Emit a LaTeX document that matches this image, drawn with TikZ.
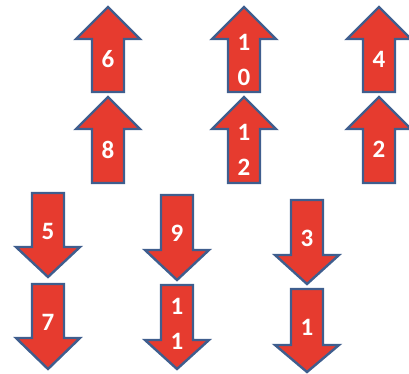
\documentclass[tikz,border=0pt]{standalone}
\usepackage{fontspec}
\setmainfont{Carlito}
\definecolor{arrred}{HTML}{E63B2F}
\definecolor{arrblue}{HTML}{3F5E8E}
\tikzset{
  arrshape/.style={fill=arrred, draw=arrblue, line width=2.4pt, line join=miter},
  lbl/.style={text=white, font=\fontsize{25}{35}\selectfont\bfseries, align=center, inner sep=0pt}
}
% #1 name, #2 cx, #3 top (tip), #4 bottom, #5 label
\newcommand\UpArr[5]{%
  \draw[arrshape] (#2,#3) -- (#2+32,#3+32) -- (#2+16,#3+32) -- (#2+16,#4) -- (#2-16,#4) -- (#2-16,#3+32) -- (#2-32,#3+32) -- cycle;
  \node[lbl] (#1) at (#2,#3+52.5) {#5};}
% #1 name, #2 cx, #3 top, #4 head base, #5 tip, #6 label
\newcommand\DownArr[6]{%
  \draw[arrshape] (#2-16,#3) -- (#2+16,#3) -- (#2+16,#4) -- (#2+32,#4) -- (#2,#5) -- (#2-32,#4) -- (#2-16,#4) -- cycle;
  \node[lbl] (#1) at (#2,#3+38.5) {#6};}
\begin{document}
\begin{tikzpicture}[x=1pt,y=-1pt]
\useasboundingbox (0,0) rectangle (409,374);
\UpArr{a6}{108}{7}{92}{6}
\UpArr{a8}{108}{97}{183}{8}
\UpArr{a10}{244}{7}{92}{1\\0}
\UpArr{a12}{244}{97}{183}{1\\2}
\UpArr{a4}{379}{7}{92}{4}
\UpArr{a2}{379}{97}{183}{2}
\DownArr{a5}{48}{193}{247}{277}{5}
\DownArr{a7}{48}{284}{338}{369}{7}
\DownArr{a9}{177}{195}{250}{280}{9}
\DownArr{a11}{177}{285}{340}{369}{1\\1}
\DownArr{a3}{307}{200}{255}{284}{3}
\DownArr{a1}{307}{289}{345}{372}{1}
\end{tikzpicture}
\end{document}
